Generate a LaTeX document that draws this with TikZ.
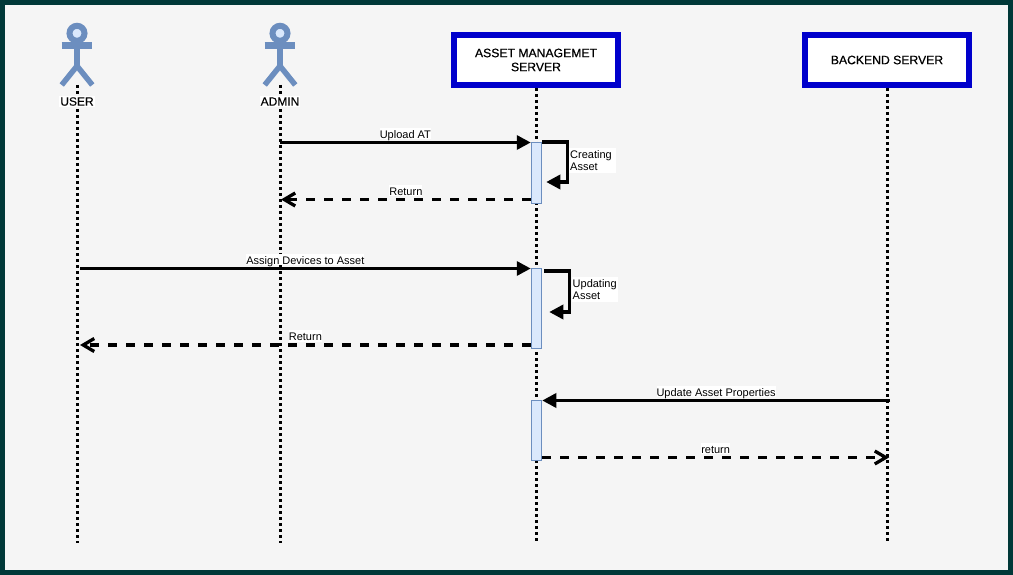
\documentclass[tikz,border=0pt]{standalone}
\usepackage{fontspec}
\setmainfont{Liberation Sans}
\newfontfamily\headfont[FakeBold=0.5]{Liberation Sans}
\newfontfamily\actorfont[FakeBold=0.2]{Liberation Sans}
\usetikzlibrary{arrows.meta}

\definecolor{srvblue}{HTML}{0000CC}
\definecolor{actedge}{HTML}{6C8EBF}
\definecolor{actfill}{HTML}{DAE8FC}
\definecolor{frame}{HTML}{003838}
\definecolor{paper}{HTML}{F5F5F5}

\tikzset{
    server/.style={draw=srvblue,line width=6.3pt,fill=white,minimum width=164pt,minimum height=50pt,align=center,font=\headfont\fontsize{12.2}{14}\selectfont},
    lifeline/.style={black,line width=3pt,dash pattern=on 3pt off 3pt},
    activation/.style={draw=actedge,fill=actfill,line width=1pt,minimum width=10.5pt,anchor=north,inner sep=0pt},
    call/.style={black,line width=3.3pt,-{Triangle[length=14pt,width=14pt]}},
    reply/.style={black,line width=3.3pt,dash pattern=on 9pt off 9pt,-{Straight Barb[length=11pt,width=13pt]}},
    msglabel/.style={font=\fontsize{11}{12.5}\selectfont,fill=white,inner xsep=0pt,inner ysep=0pt,text height=10.5pt,text depth=1pt,above=1.6pt,pos=0.5},
    selflabel/.style={font=\fontsize{11}{12.5}\selectfont,fill=white,align=left,text width=44.5pt,inner xsep=1pt,inner ysep=2pt,anchor=north west},
    actorlabel/.style={fill=white,inner xsep=1pt,inner ysep=1pt,font=\actorfont\fontsize{12}{14}\selectfont},
}

\begin{document}
\begin{tikzpicture}[x=1pt,y=-1pt]

    % frame
    \useasboundingbox (0,0) rectangle (1013,575);
    \fill[frame] (0,0) rectangle (1013,575);
    \fill[paper] (5,5) rectangle (1008,570);

    % limits
    \def\B{543}

    % lifelines
    \foreach \n/\x/\t in {user/77/85,admin/280/85,asset/536/88,backend/887/88}{
        \coordinate (\n top) at (\x,\t);
        \coordinate (\n end) at (\x,\B);
        \draw[lifeline] (\n top) -- (\n end);
    }

    % actors
    \foreach \n/\x/\l in {user/77/USER,admin/280/ADMIN}{
        \draw[actedge,line width=6pt,fill=actfill] (\x,33.3) circle (7.5pt);
        \draw[actedge,line width=6.4pt] (\x-15.3,45.5) -- (\x+15.3,45.5);
        \draw[actedge,line width=6pt] (\x,42) -- (\x,66);
        \draw[actedge,line width=5.5pt] (\x-15.3,85) -- (\x,66) -- (\x+15.3,85);
        \node[actorlabel] (\n) at (\x,101.5) {\l};
    }

    % servers
    \node[server] (asset) at (536,60) {ASSET MANAGEMET\\SERVER};
    \node[server] (backend) at (887,60) {BACKEND SERVER};

    % activations
    \foreach \n/\y/\h in {first/142/61,second/268/80,third/400/60}{
        \node[activation,minimum height=\h pt] (\n) at (536.5,\y) {};
    }

    % free ends on the lifelines
    \coordinate (adminA) at (280,142.5);
    \coordinate (adminB) at (281,199.5);
    \coordinate (userA) at (80,268.5);
    \coordinate (userB) at (80,345);
    \coordinate (backendA) at (890,400.5);
    \coordinate (backendB) at (889,457.5);

    % messages
    \draw[call] (adminA) -- (adminA -| first.west) node[msglabel] {Upload AT};
    \draw[reply] (adminB -| first.west) -- (adminB) node[msglabel] {Return};
    \draw[call] (userA) -- (userA -| second.west) node[msglabel] {Assign Devices to Asset};
    \draw[reply] (userB -| second.west) -- (userB) node[msglabel] {Return};
    \draw[call] (backendA) -- (backendA -| third.east) node[msglabel] {Update Asset Properties};
    \draw[reply] (backendB -| third.east) -- (backendB) node[msglabel] {return};

    % self calls
    \draw[call] (first.north east) -- ++(25,0) |- ++(-21,40);
    \node[selflabel] (creating) at (569,148) {Creating\\Asset};
    \draw[call] ([yshift=-3pt]second.north east) ++(2,0) -- ++(25,0) |- ++(-20,41);
    \node[selflabel] (updating) at (571.5,277) {Updating\\Asset};

\end{tikzpicture}
\end{document}
